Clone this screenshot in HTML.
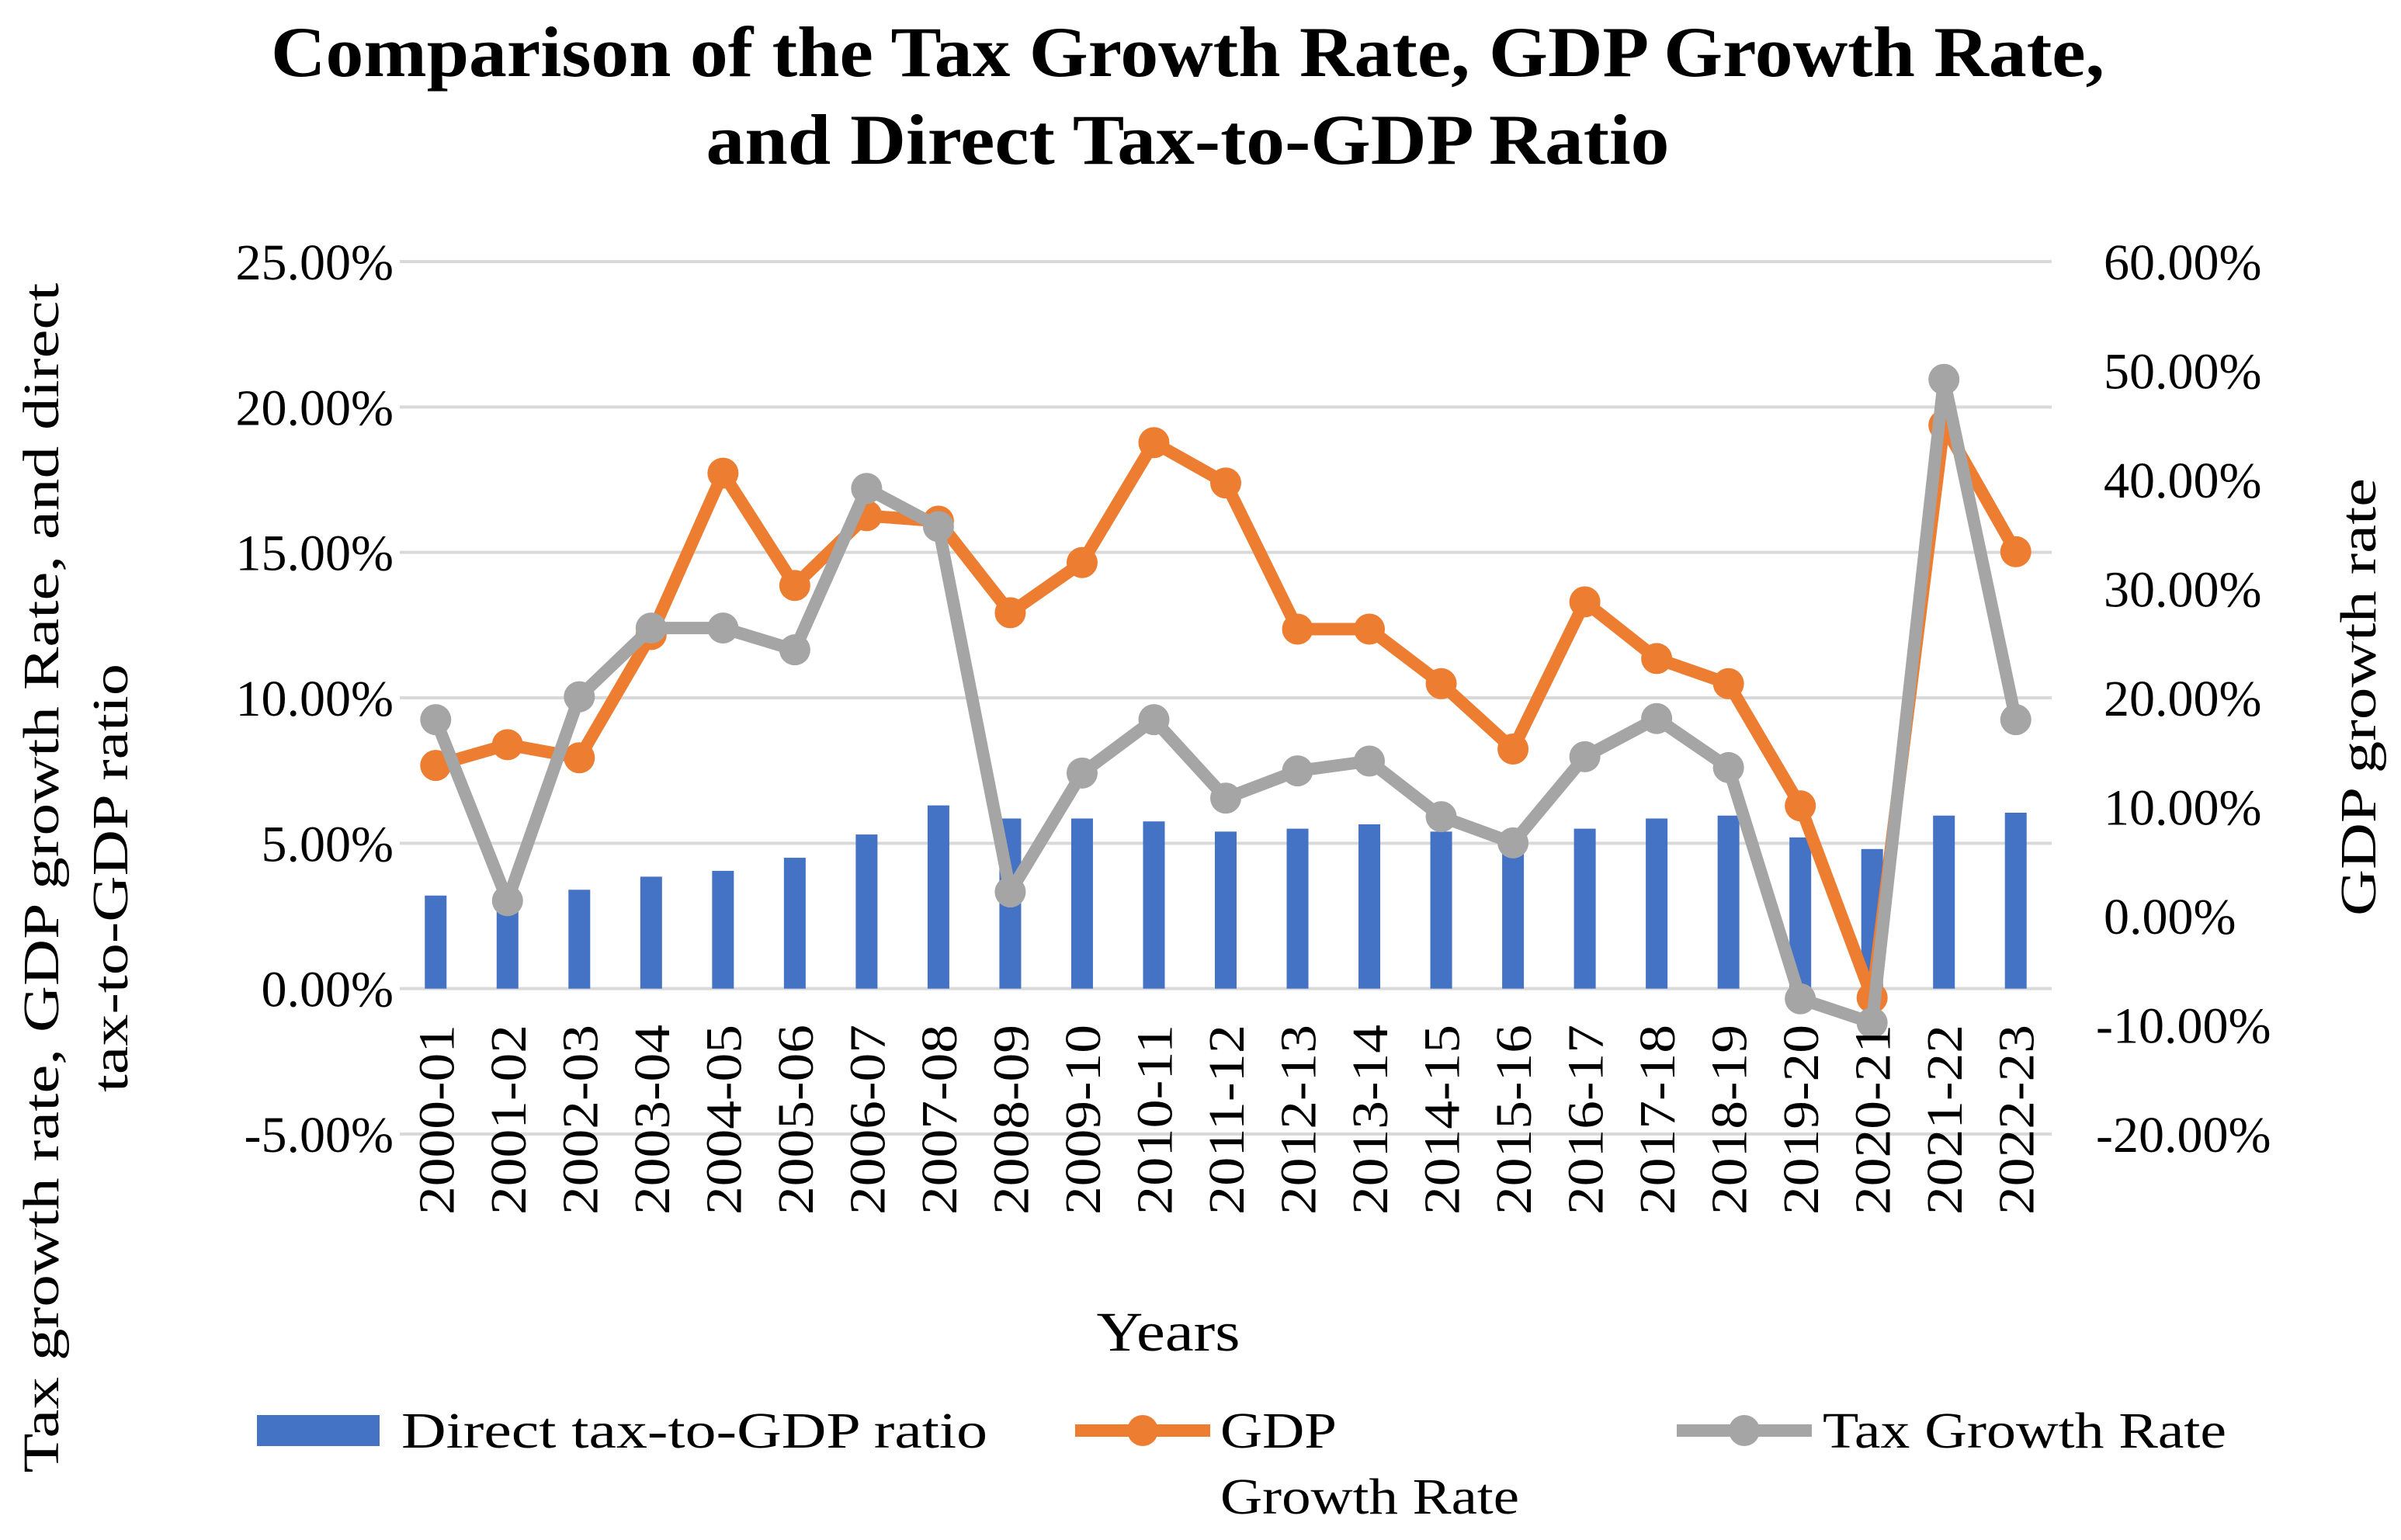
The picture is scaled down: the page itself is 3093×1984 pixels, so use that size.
<!DOCTYPE html>
<html><head><meta charset="utf-8"><style>
html,body{margin:0;padding:0;background:#fff;}
svg{display:block;font-family:"Liberation Serif",serif;}
</style></head><body>
<svg id="chart" width="3093" height="1984" viewBox="0 0 3093 1984" xmlns="http://www.w3.org/2000/svg">
<rect width="3093" height="1984" fill="#fff"/>
<text x="1530" y="98" text-anchor="middle" font-size="92" font-weight="bold" textLength="2362" lengthAdjust="spacingAndGlyphs">Comparison of the Tax Growth Rate, GDP Growth Rate,</text>
<text x="1530" y="211" text-anchor="middle" font-size="92" font-weight="bold" textLength="1241" lengthAdjust="spacingAndGlyphs">and Direct Tax-to-GDP Ratio</text>
<g id="grid"></g><g id="bars"></g><g id="lines"></g><g id="axes"></g>
<text transform="translate(75,1131) rotate(-90)" text-anchor="middle" font-size="66" textLength="1533" lengthAdjust="spacingAndGlyphs">Tax growth rate, GDP growth Rate, and direct</text>
<text transform="translate(164,1131) rotate(-90)" text-anchor="middle" font-size="66" textLength="552" lengthAdjust="spacingAndGlyphs">tax-to-GDP ratio</text>
<text transform="translate(3060,898) rotate(-90)" text-anchor="middle" font-size="66" textLength="564" lengthAdjust="spacingAndGlyphs">GDP growth rate</text>
<text x="1505" y="1740" text-anchor="middle" font-size="72" textLength="185" lengthAdjust="spacingAndGlyphs">Years</text>
<g>
<g>
<rect x="331" y="1823" width="158" height="40" fill="#4472c4"/>
<text x="517" y="1865" font-size="66" textLength="755" lengthAdjust="spacingAndGlyphs">Direct  tax-to-GDP  ratio</text></g>
<g>
<line x1="1385" y1="1843" x2="1559" y2="1843" stroke="#ed7d31" stroke-width="16"/>
<circle cx="1472" cy="1843" r="20" fill="#ed7d31"/>
<text x="1572" y="1865" font-size="66" textLength="150" lengthAdjust="spacingAndGlyphs">GDP</text>
<text x="1572" y="1950" font-size="66" textLength="385" lengthAdjust="spacingAndGlyphs">Growth Rate</text></g>
<g>
<line x1="2160" y1="1843" x2="2334" y2="1843" stroke="#a5a5a5" stroke-width="16"/>
<circle cx="2247" cy="1843" r="20" fill="#a5a5a5"/>
<text x="2348" y="1865" font-size="66" textLength="520" lengthAdjust="spacingAndGlyphs">Tax Growth Rate</text></g>
</g>
</svg>
<script>
const categories=["2000-01","2001-02","2002-03","2003-04","2004-05","2005-06","2006-07","2007-08","2008-09","2009-10","2010-11","2011-12","2012-13","2013-14","2014-15","2015-16","2016-17","2017-18","2018-19","2019-20","2020-21","2021-22","2022-23"];
const directTaxRatio=[3.2,3.3,3.4,3.85,4.05,4.5,5.3,6.3,5.85,5.85,5.75,5.4,5.5,5.65,5.4,5.1,5.5,5.85,5.95,5.2,4.8,5.95,6.05];
const gdpGrowth=[13.8,15.7,14.5,25.8,40.6,30.3,36.7,36.2,27.8,32.4,43.4,39.7,26.3,26.3,21.3,15.3,28.8,23.6,21.3,10.1,-7.5,45.0,33.4];
const taxGrowth=[18.0,1.4,20.1,26.4,26.4,24.4,39.2,35.7,2.2,13.1,18.0,10.8,13.3,14.2,9.1,6.7,14.6,18.1,13.6,-7.6,-9.8,49.2,18.0];
const leftTicks=[-5,0,5,10,15,20,25];
const rightTicks=[-20,-10,0,10,20,30,40,50,60];
const NS="http://www.w3.org/2000/svg";
const X0=515,X1=2643,YT=337,YB=1461;
const step=(X1-X0)/categories.length;
function xPos(i){return X0+step*(i+0.5);}
function yL(v){return YB-(v+5)/30*(YB-YT);}
function yR(v){return YB-(v+20)/80*(YB-YT);}
function mk(tag,attrs,parent){const e=document.createElementNS(NS,tag);for(const k in attrs)e.setAttribute(k,attrs[k]);parent.appendChild(e);return e;}
const grid=document.getElementById('grid'),bars=document.getElementById('bars'),lines=document.getElementById('lines'),axes=document.getElementById('axes');
leftTicks.forEach(t=>{
  const l=mk('line',{x1:X0,x2:X1,y1:yL(t),y2:yL(t),stroke:'#d9d9d9','stroke-width':4},grid);
  
  
  const tx=mk('text',{x:507,y:yL(t)+23,'text-anchor':'end','font-size':66},axes);
  tx.textContent=t.toFixed(2)+'%';
  
  
});
rightTicks.forEach(t=>{
  const tx=mk('text',{x:t<0?2700:2710,y:yR(t)+23,'font-size':66},axes);
  tx.textContent=t.toFixed(2)+'%';
  
  
});
categories.forEach((c,i)=>{
  const tx=mk('text',{transform:`translate(${xPos(i)+23},1320) rotate(-90)`,'text-anchor':'end','font-size':66,textLength:245,lengthAdjust:'spacingAndGlyphs'},axes);
  tx.textContent=c;
  
  
});
directTaxRatio.forEach((v,i)=>{
  const r=mk('rect',{x:xPos(i)-14,y:yL(v),width:28,height:yL(0)-yL(v),fill:'#4472c4'},bars);
  
  
});
function series(vals,color,name){
  const pts=vals.map((v,i)=>xPos(i)+','+yR(v)).join(' ');
  const pl=mk('polyline',{points:pts,fill:'none',stroke:color,'stroke-width':16,'stroke-linejoin':'round'},lines);
  
  
  vals.forEach((v,i)=>{
    const c=mk('circle',{cx:xPos(i),cy:yR(v),r:20,fill:color},lines);
    
    
  });
}
series(gdpGrowth,'#ed7d31','gdp-growth');
series(taxGrowth,'#a5a5a5','tax-growth');
</script>
</body></html>
